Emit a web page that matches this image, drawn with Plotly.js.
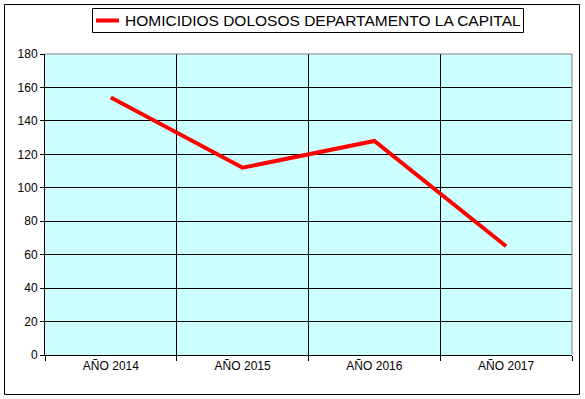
<!DOCTYPE html>
<html>
<head>
<meta charset="utf-8">
<script src="https://cdn.plot.ly/plotly-3.0.1.min.js"></script>
<style>
html,body{margin:0;padding:0;background:#fff;}
#chart{width:585px;height:399px;}
</style>
</head>
<body>
<div id="chart"></div>
<script>
const categories = ["AÑO 2014", "AÑO 2015", "AÑO 2016", "AÑO 2017"];
const homicidios = [154, 112, 128, 65];
const seriesName = "HOMICIDIOS DOLOSOS DEPARTAMENTO LA CAPITAL";
const yTicks = [0, 20, 40, 60, 80, 100, 120, 140, 160, 180];

const W = 585, H = 399;
const mL = 45, mR = 13, mT = 54, mB = 44;
const pw = W - mL - mR, ph = H - mT - mB;
function px2x(p){ return (p - mL) / pw; }
function py2y(p){ return (H - mB - p) / ph; }

const font = "Liberation Sans, Arial, sans-serif";
const lineColor = "#FF0000";

const trace = {
  x: categories,
  y: homicidios,
  type: "scatter",
  mode: "lines",
  name: seriesName,
  line: {color: lineColor, width: 4},
  showlegend: false
};

const layout = {
  width: W, height: H,
  margin: {l: mL, r: mR, t: mT, b: mB, pad: 0},
  paper_bgcolor: "#FFFFFF",
  plot_bgcolor: "#CCFFFF",
  font: {family: font, size: 12, color: "#000"},
  showlegend: false,
  xaxis: {
    type: "category",
    tickson: "boundaries",
    showgrid: true, gridcolor: "#000", gridwidth: 1,
    showline: true, linecolor: "#000", linewidth: 1,
    ticks: "outside", ticklen: 5, tickcolor: "#000",
    tickfont: {family: font, size: 12},
    range: [-0.5, 3.5],
    automargin: false,
    fixedrange: true
  },
  yaxis: {
    range: [0, 180],
    tickvals: yTicks,
    ticktext: yTicks.map(String),
    showgrid: true, gridcolor: "#000", gridwidth: 1,
    zeroline: false,
    showline: true, linecolor: "#000", linewidth: 1,
    ticks: "outside", ticklen: 4, tickcolor: "#000",
    tickfont: {family: font, size: 12},
    automargin: false,
    fixedrange: true
  },
  annotations: [
    {xref: "paper", yref: "paper", x: px2x(123), y: py2y(20.5),
     xanchor: "left", yanchor: "middle", showarrow: false,
     text: seriesName, font: {family: font, size: 15.5, color: "#000"}}
  ],
  shapes: [
    {type: "line", xref: "paper", yref: "paper", x0: 0, x1: 1, y0: 1, y1: 1,
     line: {color: "#808080", width: 1}, layer: "above"},
    {type: "line", xref: "paper", yref: "paper", x0: 1, x1: 1, y0: 0, y1: 1,
     line: {color: "#808080", width: 1}, layer: "above"},
    {type: "rect", xref: "paper", yref: "paper",
     x0: px2x(4.5), x1: px2x(579.5), y0: py2y(394.5), y1: py2y(4.5),
     line: {color: "#000", width: 1}, fillcolor: "rgba(0,0,0,0)", layer: "above"},
    // legend box
    {type: "rect", xref: "paper", yref: "paper",
     x0: px2x(92.5), x1: px2x(523.5), y0: py2y(32.5), y1: py2y(8.5),
     line: {color: "#000", width: 1}, fillcolor: "#FFFFFF", layer: "above"},
    // legend swatch
    {type: "line", xref: "paper", yref: "paper",
     x0: px2x(96), x1: px2x(119), y0: py2y(20.5), y1: py2y(20.5),
     line: {color: lineColor, width: 4}, layer: "above"}
  ]
};

Plotly.newPlot("chart", [trace], layout, {displayModeBar: false, staticPlot: true});
</script>
</body>
</html>
